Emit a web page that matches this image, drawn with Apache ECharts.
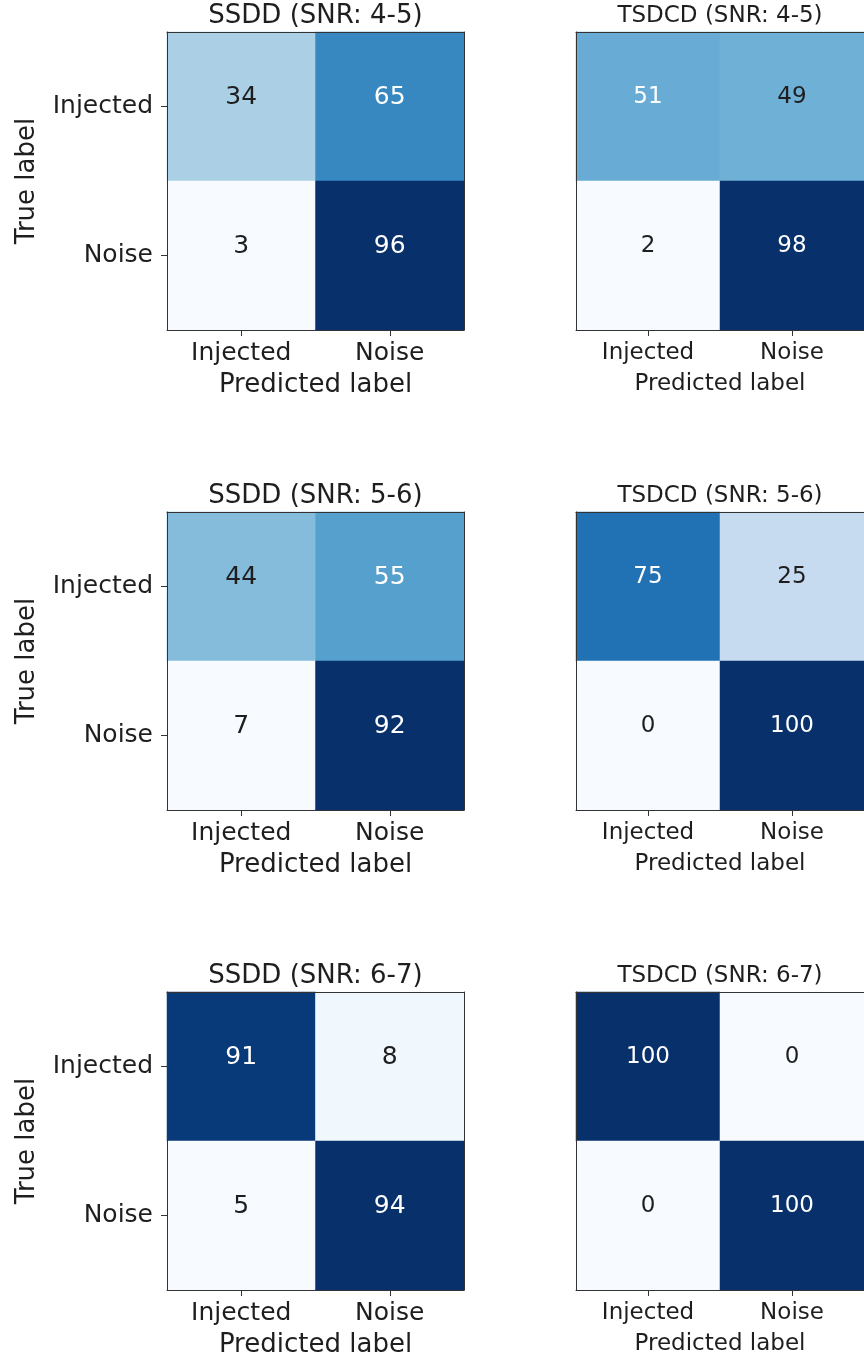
<!DOCTYPE html>
<html>
<head>
<meta charset="utf-8">
<script src="https://cdn.jsdelivr.net/npm/echarts@6/dist/echarts.min.js"></script>
<style>
html,body{margin:0;padding:0;background:#fff;}
#chart{width:864px;height:1359px;}
</style>
</head>
<body>
<div id="chart"></div>
<script>
// ---- data ----
const predictedLabels = ['Injected', 'Noise'];
const trueLabels = ['Injected', 'Noise'];
const panelTitles = ['SSDD (SNR: 4-5)', 'TSDCD (SNR: 4-5)', 'SSDD (SNR: 5-6)', 'TSDCD (SNR: 5-6)', 'SSDD (SNR: 6-7)', 'TSDCD (SNR: 6-7)'];
// rows = true label, cols = predicted label
const ssdd45 = [[34, 65], [3, 96]];
const tsdcd45 = [[51, 49], [2, 98]];
const ssdd56 = [[44, 55], [7, 92]];
const tsdcd56 = [[75, 25], [0, 100]];
const ssdd67 = [[91, 8], [5, 94]];
const tsdcd67 = [[100, 0], [0, 100]];
const matrices = [ssdd45, tsdcd45, ssdd56, tsdcd56, ssdd67, tsdcd67];

// ---- style ----
const blues = ['#f7fbff', '#deebf7', '#c6dbef', '#9ecae1', '#6baed6', '#4292c6', '#2171b5', '#08519c', '#08306b'];
const FONT = 'DejaVu Sans';
const lineCol = '#333333';
const textCol = '#1e1e1e';
// per column font sizes: [left column, right column]
const tickFS = [25, 23];
const titleFS = [26, 23];
const nameFS = [26, 23];
const cellFS = [25, 23];

const lefts = [167, 576];
const tops = [32, 512, 992];
const W = 297, H = 298;

const grid = [], xAxis = [], yAxis = [], series = [], visualMap = [];
matrices.forEach((m, i) => {
  const col = i % 2, row = Math.floor(i / 2);
  grid.push({ left: lefts[col], top: tops[row], width: W, height: H, containLabel: false });
  const flat = m.flat();
  const mn = Math.min(...flat), mx = Math.max(...flat);
  const thresh = (mn + mx) / 2;
  // bottom x axis
  xAxis.push({
    gridIndex: i, type: 'category', data: predictedLabels, position: 'bottom', z: 10,
    axisLine: { show: true, lineStyle: { color: lineCol, width: 1 } },
    axisTick: { show: true, alignWithLabel: true, length: 6, lineStyle: { color: lineCol } },
    axisLabel: { fontFamily: FONT, fontSize: tickFS[col], color: textCol, margin: col === 0 ? 11 : 12 },
    splitLine: { show: false },
    name: 'Predicted label', nameLocation: 'middle', nameGap: col === 0 ? 42 : 43,
    nameTextStyle: { fontFamily: FONT, fontSize: nameFS[col], color: textCol }
  });
  // top x axis (frame + title)
  xAxis.push({
    gridIndex: i, type: 'category', data: predictedLabels, position: 'top', z: 10,
    axisLine: { show: true, lineStyle: { color: lineCol, width: 1 } },
    axisTick: { show: false }, axisLabel: { show: false }, splitLine: { show: false },
    name: panelTitles[i], nameLocation: 'middle', nameGap: col === 0 ? 3 : 4,
    nameTextStyle: { fontFamily: FONT, fontSize: titleFS[col], color: textCol }
  });
  const leftCol = col === 0;
  yAxis.push({
    gridIndex: i, type: 'category', data: trueLabels, inverse: true, position: 'left', z: 10,
    axisLine: { show: true, lineStyle: { color: lineCol, width: 1 } },
    axisTick: { show: leftCol, alignWithLabel: true, length: 6, lineStyle: { color: lineCol } },
    axisLabel: { show: leftCol, fontFamily: FONT, fontSize: tickFS[col], color: textCol, margin: 14 },
    splitLine: { show: false },
    name: leftCol ? 'True label' : '', nameLocation: 'middle', nameGap: 127, nameRotate: 90,
    nameTextStyle: { fontFamily: FONT, fontSize: 26, color: textCol }
  });
  yAxis.push({
    gridIndex: i, type: 'category', data: trueLabels, inverse: true, position: 'right', z: 10,
    axisLine: { show: true, lineStyle: { color: lineCol, width: 1 } },
    axisTick: { show: false }, axisLabel: { show: false }, splitLine: { show: false }
  });
  const data = [];
  m.forEach((r, yi) => r.forEach((v, xi) => {
    data.push({ value: [xi, yi, v], label: { color: v > thresh ? '#ffffff' : textCol } });
  }));
  series.push({
    type: 'heatmap', xAxisIndex: 2 * i, yAxisIndex: 2 * i, data: data,
    label: { show: true, fontFamily: FONT, fontSize: cellFS[col], offset: [0, -9], formatter: p => String(p.value[2]) },
    itemStyle: { borderWidth: 0 },
    emphasis: { disabled: true }
  });
  visualMap.push({ show: false, seriesIndex: i, dimension: 2, min: mn, max: mx, inRange: { color: blues } });
});

const chart = echarts.init(document.getElementById('chart'), null, { renderer: 'canvas' });
chart.setOption({
  backgroundColor: '#ffffff',
  animation: false,
  grid, xAxis, yAxis, series, visualMap
});
</script>
</body>
</html>
